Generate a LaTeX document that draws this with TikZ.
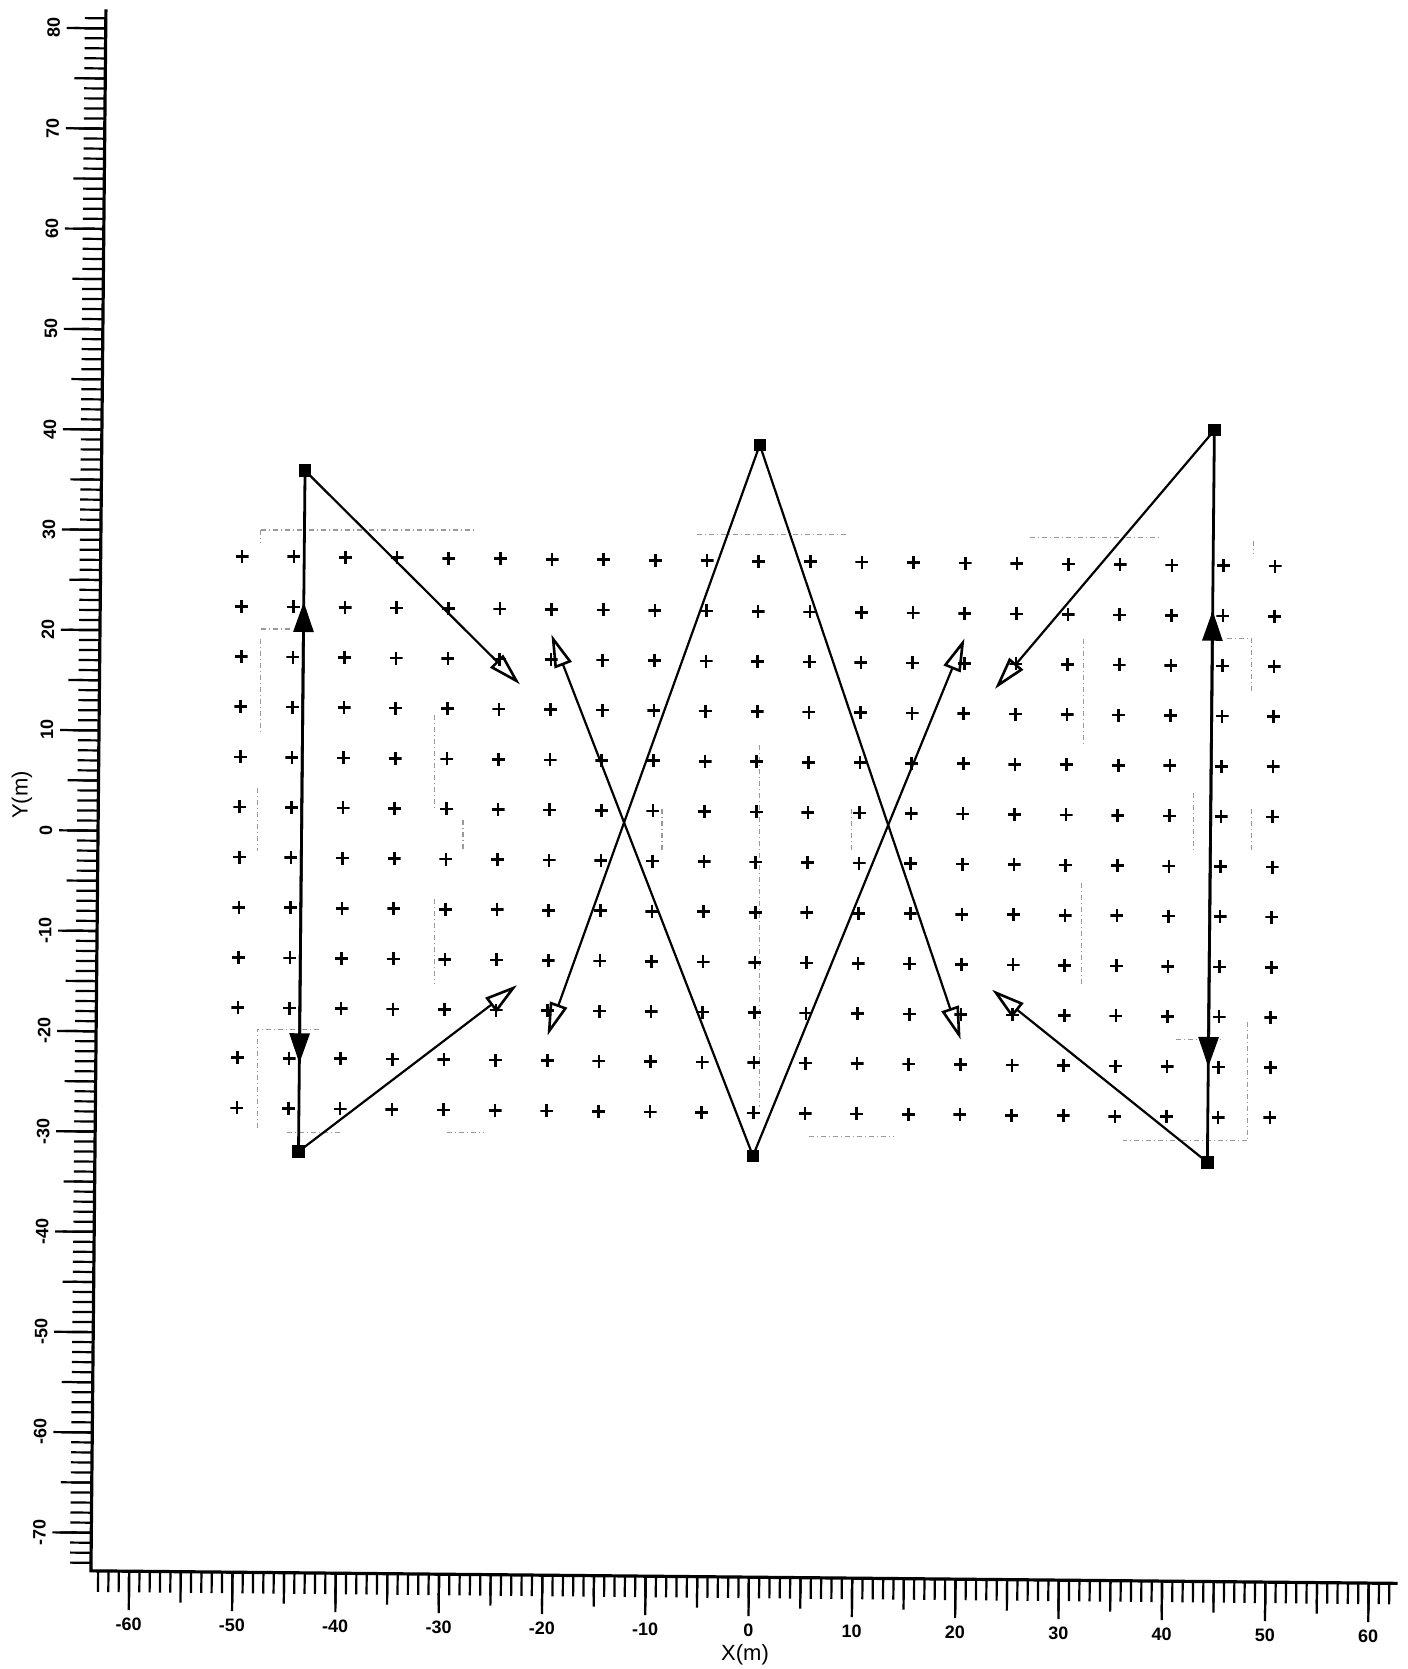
\documentclass[tikz,border=0pt]{standalone}
\usepackage{fontspec}
\setmainfont{Liberation Sans}
\usetikzlibrary{arrows.meta}
\tikzset{
  axisline/.style={line width=3.2pt},
  tickmark/.style={line width=2.2pt},
  ticklabel/.style={font=\fontsize{18}{20}\selectfont\bfseries, inner sep=0pt},
  axlabel/.style={font=\fontsize{22}{25}\selectfont, inner sep=0pt},
  plusmark/.style={minimum size=13pt, inner sep=0pt,
    path picture={\draw[line width=2.6pt] (path picture bounding box.north) -- (path picture bounding box.south)
      (path picture bounding box.west) -- (path picture bounding box.east);}},
  station/.style={fill=black, minimum size=12.5pt, inner sep=0pt},
  diagray/.style={line width=2.2pt, -{Triangle[open, length=33pt, width=18pt, line width=2.6pt]}},
  vertray/.style={line width=2.8pt, -{Triangle[length=30pt, width=20pt]}},
  faint/.style={draw=black!40, line width=1.1pt, dash pattern=on 5pt off 3pt on 1pt off 3pt},
}
\begin{document}
\begin{tikzpicture}[x=1pt,y=1pt]
\useasboundingbox (0,0) rectangle (1407,-1669);
% faint outlines (pixel coordinates of the shrunk view)
\begin{scope}[x=1.0643pt,y=-1.0643pt]
\draw[faint] (245,498) -- (447,498);
\draw[faint] (245,498) -- (245,510);
\draw[faint] (655,502) -- (795,502);
\draw[faint] (968,505) -- (1090,505);
\draw[faint] (1178,508) -- (1178,520);
\draw[faint] (245,591) -- (275,591);
\draw[faint] (245,600) -- (245,690);
\draw[faint] (408,672) -- (408,760);
\draw[faint] (435,770) -- (435,800);
\draw[faint] (242,740) -- (242,800);
\draw[faint] (622,760) -- (622,800);
\draw[faint] (714,700) -- (714,1040);
\draw[faint] (800,760) -- (800,800);
\draw[faint] (1018,600) -- (1018,700);
\draw[faint] (1121,745) -- (1121,800);
\draw[faint] (1153,600) -- (1176,600) -- (1176,650);
\draw[faint] (1176,760) -- (1176,800);
\draw[faint] (1016,830) -- (1016,925);
\draw[faint] (408,845) -- (408,925);
\draw[faint] (1105,977) -- (1150,977);
\draw[faint] (1172,960) -- (1172,1072) -- (1055,1072);
\draw[faint] (760,1068) -- (840,1068);
\draw[faint] (420,1064) -- (455,1064);
\draw[faint] (300,967) -- (242,967) -- (242,1062);
\draw[faint] (270,1064) -- (320,1064);
\end{scope}
\begin{scope}[shift={(756,-837)}, rotate=-0.55, x=10.33pt, y=10.03pt]
  % axes
  \draw[axisline] (-63.7,81.9) -- (-63.7,-73.8) -- (62.8,-73.8);
  \foreach \i in {-63,...,62} \draw[tickmark] (\i,-73.8) -- ++(0,-21pt);
  \foreach \i in {-60,-55,...,60} \draw[tickmark] (\i,-73.8) -- ++(0,-31pt);
  \foreach \i in {-60,-50,...,60} {
    \draw[tickmark] (\i,-73.8) -- ++(0,-39pt);
    \node[ticklabel] (xt\i) at ([yshift=-53pt]\i,-73.8) {\i};
  }
  \foreach \j in {-73,...,81} \draw[tickmark] (-63.7,\j) -- ++(-21pt,0);
  \foreach \j in {-70,-65,...,80} \draw[tickmark] (-63.7,\j) -- ++(-31pt,0);
  \foreach \j in {-70,-60,...,80} {
    \draw[tickmark] (-63.7,\j) -- ++(-39pt,0);
    \node[ticklabel, rotate=90] (yt\j) at ([xshift=-52pt]-63.7,\j) {\j};
  }
  % receiver grid
  \foreach \i in {0,...,20} \foreach \j in {0,...,11}
    \node[plusmark] (p-\i-\j) at ({-50+5*\i},{27.5-5*\j}) {};
  % ray end points
  \coordinate (tA) at (-23,15);
  \coordinate (tB) at (-23,-15);
  \coordinate (tC) at (-20,20);
  \coordinate (tD) at (-20,-20);
  \coordinate (tE) at (20,-20);
  \coordinate (tF) at (20,20);
  \coordinate (tG) at (23,15);
  \coordinate (tH) at (23,-15);
  \coordinate (vL1) at (-44,-23);
  \coordinate (vL2) at (-44,23);
  \coordinate (vR1) at (44,-22.5);
  \coordinate (vR2) at (44,23);
  % stations
  \node[station] (s1) at (-44,36.1) {};
  \node[station] (s2) at (-44,-31.8) {};
  \node[station] (s3) at (0,39.1) {};
  \node[station] (s4) at (0,-31.8) {};
  \node[station] (s5) at (44,41) {};
  \node[station] (s6) at (44,-32) {};
  % rays
  \draw[vertray] (s1.center) -- (vL1);
  \draw[vertray] (s2.center) -- (vL2);
  \draw[vertray] (s5.center) -- (vR1);
  \draw[vertray] (s6.center) -- (vR2);
  \draw[diagray] (s1.center) -- (tA);
  \draw[diagray] (s2.center) -- (tB);
  \draw[diagray] (s4.center) -- (tC);
  \draw[diagray] (s3.center) -- (tD);
  \draw[diagray] (s3.center) -- (tE);
  \draw[diagray] (s4.center) -- (tF);
  \draw[diagray] (s5.center) -- (tG);
  \draw[diagray] (s6.center) -- (tH);
  \node[station] at (s1) {};
  \node[station] at (s2) {};
  \node[station] at (s3) {};
  \node[station] at (s4) {};
  \node[station] at (s5) {};
  \node[station] at (s6) {};
\end{scope}
\node[axlabel] (xlab) at (745,-1655) {X(m)};
\node[axlabel, rotate=90] (ylab) at (22,-795) {Y(m)};
\end{tikzpicture}
\end{document}
